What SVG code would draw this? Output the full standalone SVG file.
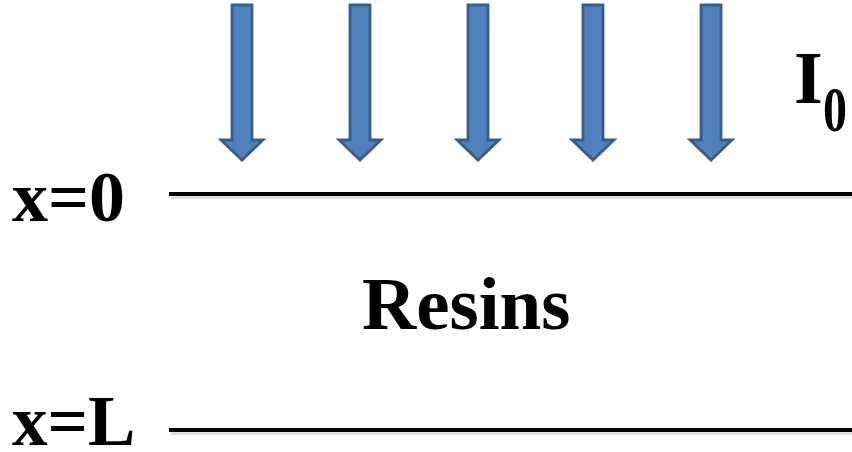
<svg xmlns="http://www.w3.org/2000/svg" xmlns:xlink="http://www.w3.org/1999/xlink" width="852" height="452" viewBox="0 0 852 452">
  <style>
    .lbl { font-family: "Liberation Serif", "Times New Roman", serif; font-weight: bold; fill: #000; }
    .arrow { fill: #4F81BD; stroke: #385D8A; stroke-width: 2.8; stroke-linejoin: miter; }
    .layer { stroke: #000; stroke-width: 4; }
    .shade { stroke: #000; stroke-opacity: 0.12; stroke-width: 3; }
  </style>
  <defs>
    <!-- block arrow pointing down, tip at (0,0) -->
    <path id="downArrow" class="arrow" d="M -10 -155 L 10 -155 L 10 -20 L 21 -20 L 0 0 L -21 -20 L -10 -20 Z"/>
  </defs>

  <rect width="852" height="452" fill="#fff"/>

  <!-- incident light -->
  <g id="light">
    <use xlink:href="#downArrow" x="242" y="160"/>
    <use xlink:href="#downArrow" x="360" y="160"/>
    <use xlink:href="#downArrow" x="478" y="160"/>
    <use xlink:href="#downArrow" x="593" y="160"/>
    <use xlink:href="#downArrow" x="711" y="160"/>
  </g>

  <g id="intensity">
    <text class="lbl" x="794" y="103" font-size="74">I</text>
    <text class="lbl" x="823" y="131" font-size="64" textLength="24" lengthAdjust="spacingAndGlyphs">0</text>
  </g>

  <!-- resin layer boundaries -->
  <g id="surface">
    <line class="shade" x1="171" y1="197.5" x2="852" y2="197.5"/>
    <line class="layer" x1="169" y1="194" x2="852" y2="194"/>
    <text class="lbl" x="12" y="221" font-size="72">x=0</text>
  </g>

  <g id="bottom">
    <line class="shade" x1="171" y1="433.5" x2="852" y2="433.5"/>
    <line class="layer" x1="169" y1="430" x2="852" y2="430"/>
    <text class="lbl" x="12" y="445" font-size="71">x=L</text>
  </g>

  <g id="resin">
    <text class="lbl" x="362" y="329" font-size="75">Resins</text>
  </g>
</svg>
